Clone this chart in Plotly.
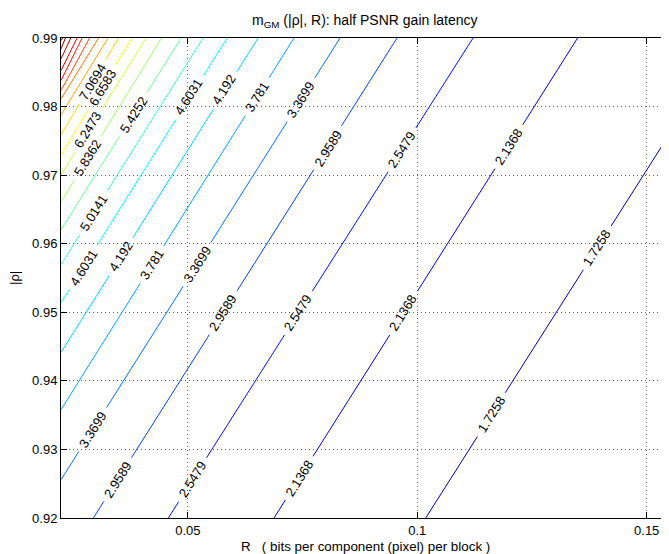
import math
import plotly.graph_objects as go

# ------------------------------------------------------------------ data
# contour levels (values of m_GM) drawn in the reference
contour_levels = [1.7258, 2.1368, 2.5479, 2.9589, 3.3699, 3.781, 4.192, 4.6031,
                  5.0141, 5.4252, 5.8362, 6.2473, 6.6583, 7.0694, 7.4804, 7.8915,
                  8.3025, 8.7136, 9.1246, 9.5357, 9.9467, 10.3578]

# end points of each contour line (lower-left end, upper-right end)
contour_R = [
    [0.10184, 0.15486], [0.06878, 0.13494], [0.04575, 0.11215], [0.02941, 0.09559],
    [0.02236, 0.08317], [0.02236, 0.07314], [0.02236, 0.06530], [0.02236, 0.05854],
    [0.02236, 0.05331], [0.02236, 0.04852], [0.02236, 0.04427], [0.02236, 0.04089],
    [0.02236, 0.03784], [0.02236, 0.03490], [0.02236, 0.03261], [0.02236, 0.03054],
    [0.02236, 0.02858], [0.02236, 0.02694], [0.02236, 0.02586], [0.02236, 0.02448],
    [0.02236, 0.02333], [0.02236, 0.02270],
]
contour_rho = [
    [0.92, 0.97587], [0.92, 0.99], [0.92, 0.99], [0.92, 0.99],
    [0.92558, 0.99], [0.93579, 0.99], [0.94414, 0.99], [0.95139, 0.99],
    [0.95692, 0.99], [0.96203, 0.99], [0.96615, 0.99], [0.97004, 0.99],
    [0.97296, 0.99], [0.97587, 0.99], [0.97879, 0.99], [0.98112, 0.99],
    [0.98233, 0.99], [0.98379, 0.99], [0.98525, 0.99], [0.98695, 0.99],
    [0.98841, 0.99], [0.98962, 0.99],
]

# inline contour labels (level, position)
label_levels = [7.0694, 6.6583, 6.2473, 5.8362, 5.4252, 5.0141,
                4.6031, 4.6031, 4.192, 4.192, 3.781, 3.781,
                3.3699, 3.3699, 3.3699, 2.9589, 2.9589, 2.9589,
                2.5479, 2.5479, 2.5479, 2.1368, 2.1368, 2.1368,
                1.7258, 1.7258]
label_R = [0.02934, 0.03152, 0.02825, 0.02825, 0.03828, 0.02956,
           0.05026, 0.02738, 0.05789, 0.03544, 0.06519, 0.04220,
           0.07467, 0.05211, 0.02934, 0.08055, 0.05767, 0.03479,
           0.09668, 0.07401, 0.05102, 0.11999, 0.09690, 0.07423,
           0.13917, 0.11618]
label_rho = [0.98360, 0.98273, 0.97660, 0.97252, 0.97879, 0.96450,
             0.98141, 0.95649, 0.98243, 0.95809, 0.98141, 0.95692,
             0.98098, 0.95692, 0.93287, 0.97394, 0.94993, 0.92558,
             0.97369, 0.94993, 0.92558, 0.97413, 0.94993, 0.92583,
             0.95940, 0.93506]

x_tickvals = [0.05, 0.1, 0.15]
x_ticktext = ["0.05", "0.1", "0.15"]
y_tickvals = [0.92, 0.93, 0.94, 0.95, 0.96, 0.97, 0.98, 0.99]
y_ticktext = ["0.92", "0.93", "0.94", "0.95", "0.96", "0.97", "0.98", "0.99"]

title_text = "m<sub>GM</sub> (|\u03c1|, R): half PSNR gain latency"
x_title = "R\u00a0\u00a0\u00a0( bits per component (pixel) per block )"
y_title = "|\u03c1|"

# ------------------------------------------------------------------ layout constants
PAGE_OFF = 8                      # default body margin of the html page
W, H = 669 - PAGE_OFF, 554 - PAGE_OFF
ML, MR, MT, MB = 61 - PAGE_OFF, 0, 38 - PAGE_OFF, 36
XR = [0.02236, 0.15486]
YR = [0.92, 0.99]
FONT = "Liberation Sans, Arial, Helvetica, sans-serif"
FS = 13
C_MIN, C_MAX = 1.3148, 9.9467   # colour limits of the jet colormap

PW, PH = W - ML - MR, H - MT - MB
sx = PW / (XR[1] - XR[0])
sy = PH / (YR[1] - YR[0])


def jet(v):
    t = min(max((v - C_MIN) / (C_MAX - C_MIN), 0.0), 1.0)
    r = min(max(1.5 - abs(4 * t - 3), 0.0), 1.0)
    g = min(max(1.5 - abs(4 * t - 2), 0.0), 1.0)
    b = min(max(1.5 - abs(4 * t - 1), 0.0), 1.0)
    return "rgb(%d,%d,%d)" % (round(r * 255), round(g * 255), round(b * 255))


def to_px(R, p):
    return ((R - XR[0]) * sx, (p - YR[0]) * sy)


def to_data(px, py):
    return (XR[0] + px / sx, YR[0] + py / sy)


def text_width(s):
    w = 0.0
    for ch in s:
        w += 0.278 if ch == "." else 0.556
    return w * FS


fig = go.Figure()
annotations = []

for i, lvl in enumerate(contour_levels):
    P = [to_px(r, p) for r, p in zip(contour_R[i], contour_rho[i])]
    cum = [0.0]
    for k in range(1, len(P)):
        cum.append(cum[-1] + math.hypot(P[k][0] - P[k - 1][0], P[k][1] - P[k - 1][1]))
    L = cum[-1]

    def point_at(s):
        for k in range(1, len(P)):
            if s <= cum[k] or k == len(P) - 1:
                seg = cum[k] - cum[k - 1]
                f = 0 if seg == 0 else (s - cum[k - 1]) / seg
                return (P[k - 1][0] + f * (P[k][0] - P[k - 1][0]),
                        P[k - 1][1] + f * (P[k][1] - P[k - 1][1]))

    gaps = []
    for j, ll in enumerate(label_levels):
        if ll != lvl:
            continue
        q = to_px(label_R[j], label_rho[j])
        best = None
        for k in range(1, len(P)):
            ax, ay = P[k - 1]
            bx, by = P[k]
            dx, dy = bx - ax, by - ay
            seg2 = dx * dx + dy * dy
            f = max(0.0, min(1.0, ((q[0] - ax) * dx + (q[1] - ay) * dy) / seg2))
            d = math.hypot(ax + f * dx - q[0], ay + f * dy - q[1])
            if best is None or d < best[0]:
                best = (d, cum[k - 1] + f * math.sqrt(seg2), math.degrees(math.atan2(dy, dx)))
        txt = "%g" % lvl
        g = text_width(txt) + 12
        gaps.append((best[1] - g / 2, best[1] + g / 2))
        annotations.append(dict(
            x=label_R[j], y=label_rho[j], xref="x", yref="y", text=txt,
            showarrow=False, textangle=-best[2], xanchor="center", yanchor="middle",
            font=dict(family=FONT, size=FS, color="black")))

    gaps.sort()
    pieces = []
    start = 0.0
    for a, b in gaps:
        if a > start:
            pieces.append((start, a))
        start = max(start, b)
    if start < L:
        pieces.append((start, L))

    xs, ys = [], []
    for a, b in pieces:
        pts = [point_at(a)]
        for k in range(1, len(P) - 1):
            if a < cum[k] < b:
                pts.append(P[k])
        pts.append(point_at(b))
        for px, py in pts:
            R, p = to_data(px, py)
            xs.append(R)
            ys.append(p)
        xs.append(None)
        ys.append(None)

    fig.add_trace(go.Scatter(x=xs, y=ys, mode="lines",
                             line=dict(color=jet(lvl), width=1),
                             hoverinfo="skip", showlegend=False))

annotations += [
    dict(x=0.5, y=1 + 17.5 / PH, xref="paper", yref="paper", text=title_text,
         showarrow=False, xanchor="center", yanchor="middle",
         font=dict(family=FONT, size=14, color="black")),
    dict(x=0.5, y=-28.0 / PH, xref="paper", yref="paper", text=x_title,
         showarrow=False, xanchor="center", yanchor="middle",
         font=dict(family=FONT, size=13.4, color="black")),
    dict(x=-47.0 / PW, y=0.5, xref="paper", yref="paper", text=y_title,
         showarrow=False, xanchor="center", yanchor="middle", textangle=-90,
         font=dict(family=FONT, size=FS, color="black")),
]

axis_common = dict(
    showline=True, linecolor="black", linewidth=1, mirror="ticks",
    ticks="inside", ticklen=6, tickwidth=1, tickcolor="black",
    showgrid=True, gridcolor="rgba(40,40,40,0.75)", gridwidth=1, griddash="1px,3px",
    zeroline=False, tickfont=dict(family=FONT, size=FS, color="black"),
)

fig.update_layout(
    width=W, height=H,
    margin=dict(l=ML, r=MR, t=MT, b=MB, pad=0),
    paper_bgcolor="white", plot_bgcolor="white",
    xaxis=dict(range=XR, tickvals=x_tickvals, ticktext=x_ticktext, **axis_common),
    yaxis=dict(range=YR, tickvals=y_tickvals, ticktext=y_ticktext, **axis_common),
    annotations=annotations,
    showlegend=False,
)

fig.write_html("out.html")
